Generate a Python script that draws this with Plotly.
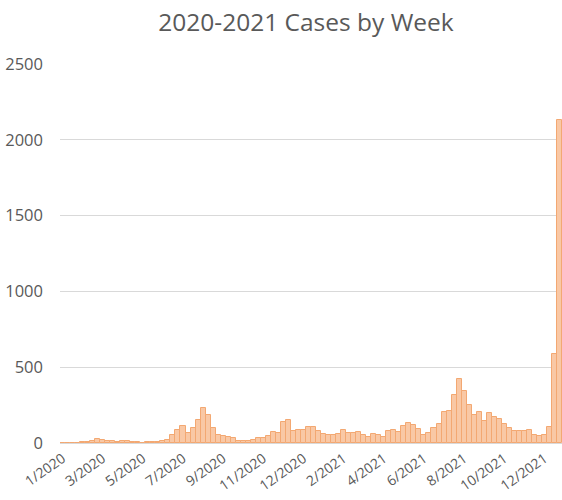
import plotly.graph_objects as go

# Weekly case counts, Jan 2020 - Dec 2021
cases_2020a = [2, 2, 3, 3, 5, 8, 15, 25, 20, 12, 10, 8, 12, 10, 5, 4]
cases_2020b = [3, 5, 5, 5, 10, 20, 53, 84, 114, 64, 100, 152, 230, 187, 101, 53]
cases_2020c = [44, 42, 33, 13, 15, 13, 22, 33, 33, 48, 70, 64, 139, 150, 81, 86, 86]
cases_2021a = [103, 108, 79, 59, 55, 55, 59, 84, 64, 64, 73, 51, 37, 62, 51, 40]
cases_2021b = [77, 86, 75, 112, 130, 117, 92, 51, 68, 99, 125, 207, 213, 317, 420, 345]
cases_2021c = [251, 185, 202, 147, 200, 174, 156, 125, 97, 81, 77, 77, 84, 51, 48, 51, 108, 590, 2130]

cases = cases_2020a + cases_2020b + cases_2020c + cases_2021a + cases_2021b + cases_2021c
weeks = list(range(len(cases)))

tick_labels = ["1/2020", "3/2020", "5/2020", "7/2020", "9/2020", "11/2020", "12/2020",
               "2/2021", "4/2021", "6/2021", "8/2021", "10/2021", "12/2021"]
tick_every = 8
tick_positions = [i * tick_every for i in range(len(tick_labels))]

font_family = "Open Sans"
grey = "#595959"

fig = go.Figure(
    go.Bar(
        x=weeks,
        y=cases,
        marker=dict(color="#F9C8A5", line=dict(color="#F3A872", width=1)),
        hoverinfo="x+y",
    )
)

fig.update_layout(
    width=562,
    height=500,
    paper_bgcolor="white",
    plot_bgcolor="white",
    bargap=0,
    showlegend=False,
    margin=dict(l=60, r=0, t=64, b=57),
    title=dict(
        text="2020-2021 Cases by Week",
        x=0.49,
        xref="paper",
        y=0.955,
        yref="container",
        xanchor="center",
        yanchor="middle",
        font=dict(family=font_family, size=24.5, color=grey),
    ),
    font=dict(family=font_family, color=grey),
)

fig.update_xaxes(
    range=[-0.5, len(cases) - 0.5],
    tickmode="array",
    tickvals=tick_positions,
    ticktext=tick_labels,
    tickangle=-35,
    tickfont=dict(size=14, color=grey),
    showgrid=False,
    showline=False,
    ticks="",
    zeroline=False,
    ticklabelstandoff=4,
)

fig.update_yaxes(
    range=[0, 2500],
    dtick=500,
    tick0=0,
    tickfont=dict(size=16.5, color=grey),
    showgrid=True,
    gridcolor="#D9D9D9",
    gridwidth=1,
    zeroline=True,
    zerolinecolor="#D9D9D9",
    zerolinewidth=1,
    showline=False,
    ticks="",
    ticklabelstandoff=16,
)

fig.write_html(
    "out.html",
    config={"displayModeBar": False},
    post_script="document.body.style.margin='0';document.body.style.padding='0';",
)
